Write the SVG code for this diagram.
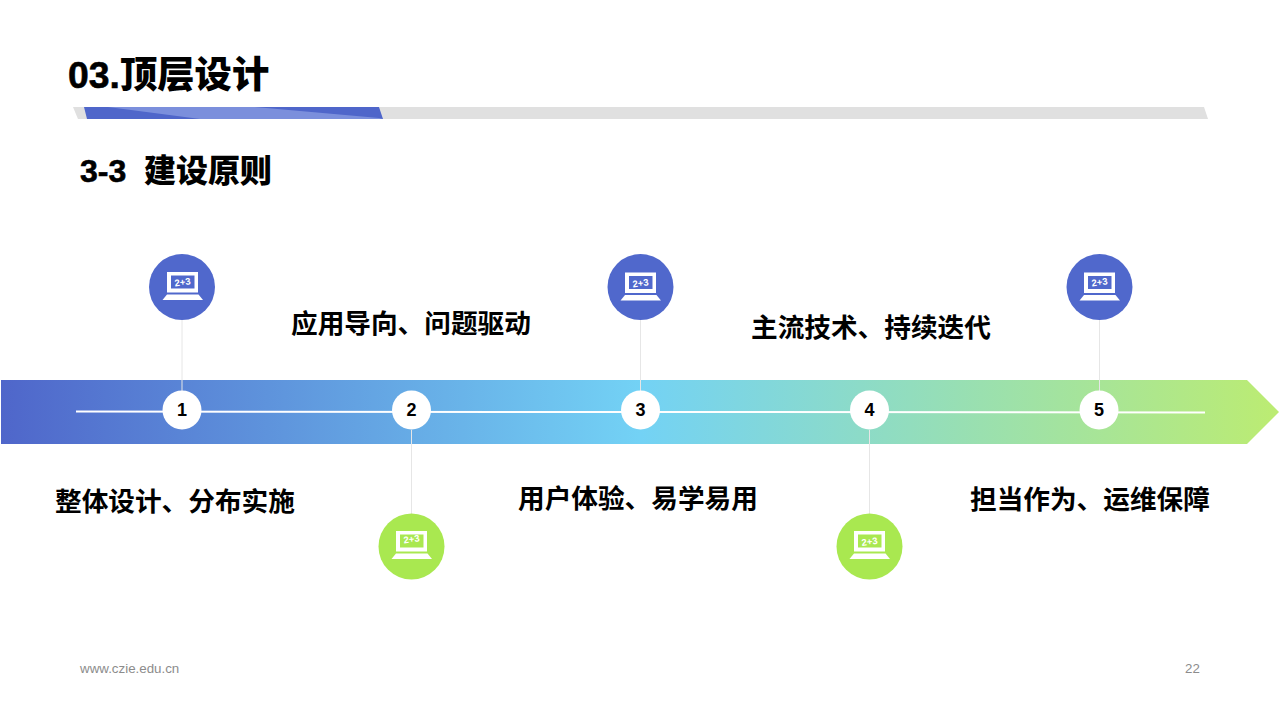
<svg xmlns="http://www.w3.org/2000/svg" width="1280" height="720" viewBox="0 0 1280 720">
<style>
text{font-family:"Liberation Sans","Noto Sans CJK SC",sans-serif;fill:#000}
.h{font-family:"Noto Sans CJK SC","Liberation Sans",sans-serif;font-weight:700;font-size:26.670px}
.n{font-size:18px;font-weight:700;text-anchor:middle}
.f{font-size:13.330px;fill:#8c8c8c}
.t1{font-family:"Noto Sans CJK SC",sans-serif;font-weight:900;font-size:37.330px}
.t2{font-family:"Noto Sans CJK SC",sans-serif;font-weight:900;font-size:32px}
.lat{font-family:"Liberation Sans",sans-serif;font-weight:700;stroke:#000;stroke-width:.6px}
.stem{stroke:#e6e6e6;stroke-width:1;fill:none}
.dot{fill:#fff}
.bl{fill:#5068cc}.gr{fill:#a9e850}
.ic{fill:#fff}
.eq{font-size:9.500px;font-weight:700;fill:#fff;text-anchor:middle}
</style>
<defs>
<linearGradient id="g" x1="0" x2="1" y1="0" y2="0">
<stop offset="0" stop-color="#4f66ca"/><stop offset=".5" stop-color="#73d2f5"/><stop offset="1" stop-color="#bcec72"/>
</linearGradient>
<g id="laptop">
<path class="ic" fill-rule="evenodd" d="M-15.500-14.500H15.500V6H-15.500ZM-11.500-11V2H12V-11Z"/>
<path class="ic" d="M-15.500 8H16L20.500 13.500H-20Z"/>
</g>
</defs>
<g id="header">
<polygon points="73,107 1204,107 1208,119 78,119" fill="#e0e0e0"/>
<polygon points="84,107 379,107 383,119 87,119" fill="#4f66ca"/>
<polygon points="108,107 255,107 379,118 383,119 200,119" fill="#7b8fdc"/>
<text class="t1" x="68" y="88"><tspan class="lat">03.</tspan>顶层设计</text>
<text class="t2" x="80" y="182"><tspan class="lat">3-3</tspan><tspan x="144">建设原则</tspan></text>
</g>
<g id="arrow">
<polygon points="1,380 1247,380 1279,412 1247,444 1,444" fill="url(#g)"/>
<line x1="76" y1="411.500" x2="1205" y2="412.500" stroke="#fff" stroke-width="2"/>
</g>
<g id="connectors">
<line class="stem" x1="182" y1="320" x2="182" y2="392"/>
<line class="stem" x1="411.500" y1="430" x2="411.500" y2="514"/>
<line class="stem" x1="640.500" y1="320" x2="640.500" y2="392"/>
<line class="stem" x1="869.500" y1="430" x2="869.500" y2="514"/>
<line class="stem" x1="1099.500" y1="320" x2="1099.500" y2="392"/>
</g>
<g id="node1"><circle class="dot" cx="182" cy="410" r="19.500"/><text class="n" x="182" y="416">1</text>
<circle class="bl" cx="182" cy="287" r="33"/><use href="#laptop" x="182.500" y="286.500"/><text class="eq" x="182.500" y="285.500" transform="rotate(-8 182.500 282)">2+3</text>
<text class="h" x="55" y="511">整体设计、分布实施</text></g>
<g id="node2"><circle class="dot" cx="411.500" cy="410" r="19.500"/><text class="n" x="411.500" y="416">2</text>
<circle class="gr" cx="411.500" cy="546.500" r="33"/><use href="#laptop" x="411.500" y="545.500"/><text class="eq" x="411.500" y="542.500" transform="rotate(-8 411.500 539)">2+3</text>
<text class="h" x="291" y="333">应用导向、问题驱动</text></g>
<g id="node3"><circle class="dot" cx="640.500" cy="410" r="19.500"/><text class="n" x="640.500" y="416">3</text>
<circle class="bl" cx="640.500" cy="287" r="33"/><use href="#laptop" x="640.500" y="287"/><text class="eq" x="640.500" y="286.500" transform="rotate(-8 640.500 283)">2+3</text>
<text class="h" x="518" y="508">用户体验、易学易用</text></g>
<g id="node4"><circle class="dot" cx="869.500" cy="410" r="19.500"/><text class="n" x="869.500" y="416">4</text>
<circle class="gr" cx="869.500" cy="546.500" r="33"/><use href="#laptop" x="869.500" y="545.500"/><text class="eq" x="869.500" y="545" transform="rotate(-8 869.500 541.500)">2+3</text>
<text class="h" x="751" y="337">主流技术、持续迭代</text></g>
<g id="node5"><circle class="dot" cx="1099" cy="410" r="19.500"/><text class="n" x="1099" y="416">5</text>
<circle class="bl" cx="1099.500" cy="287" r="33"/><use href="#laptop" x="1099.500" y="287"/><text class="eq" x="1099.500" y="285.500" transform="rotate(-8 1099.500 282)">2+3</text>
<text class="h" x="970" y="509">担当作为、运维保障</text></g>
<g id="footer">
<text class="f" x="80" y="673">www.czie.edu.cn</text>
<text class="f" x="1185" y="673">22</text>
</g>
</svg>
